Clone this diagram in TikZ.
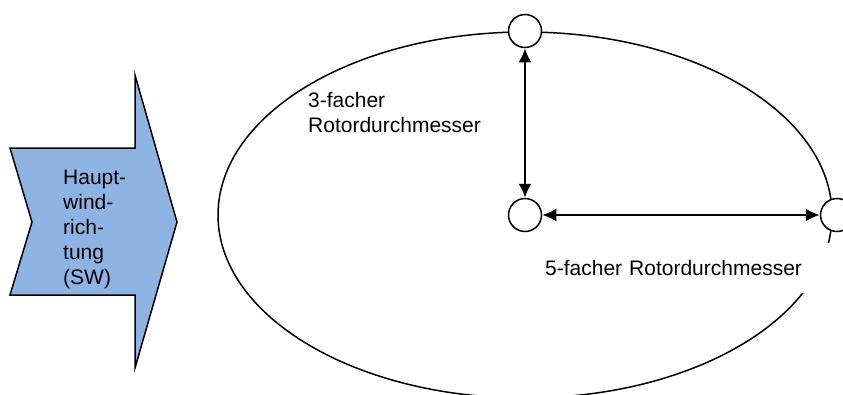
\documentclass[tikz,border=0pt]{standalone}
\usepackage{fontspec}
\setmainfont{Liberation Sans}
\usetikzlibrary{arrows.meta}
\definecolor{windblue}{RGB}{142,180,227}
\tikzset{
  lbl/.style={font=\fontsize{21pt}{25pt}\selectfont, align=left, inner sep=0pt},
  mast/.style={circle, draw, line width=1.5pt, fill=white, minimum size=33pt, inner sep=0pt},
  dim/.style={{Latex[length=14pt,width=13pt]}-{Latex[length=14pt,width=13pt]}, line width=2.2pt},
}
\begin{document}
\begin{tikzpicture}[x=1pt, y=-1pt]
  \useasboundingbox (0,0) rectangle (843,394);
  \clip (0,0) rectangle (843,394);
  \fill[white] (0,0) rectangle (843,394);

  % main wind direction block arrow
  \draw[line width=1.5pt, fill=windblue, line join=miter]
    (10,148) -- (135,148) -- (135,75) -- (177,222) -- (135,368)
    -- (135,295) -- (10,295) -- (32,222) -- cycle;
  \node[lbl, anchor=west] (wind) at (63,229)
    {Haupt-\\wind-\\rich-\\tung\\(SW)};

  % distance ellipse
  \draw[line width=1.5pt] (525,215) ellipse [x radius=307pt, y radius=183pt];

  % turbine positions
  \node[mast] (top) at (525,31) {};
  \node[mast] (mid) at (525,215) {};
  \node[mast] (right) at (837,215) {};

  % distances
  \draw[dim] (top) -- (mid);
  \draw[dim] (mid) -- (right);

  \node[lbl, anchor=west] (three) at (308,112) {3-facher\\Rotordurchmesser};
  \node[lbl, anchor=north west, fill=white, text width=280pt,
        minimum height=50pt, inner xsep=6pt] (five) at (539,243)
    {5-facher Rotordurchmesser};
\end{tikzpicture}
\end{document}
